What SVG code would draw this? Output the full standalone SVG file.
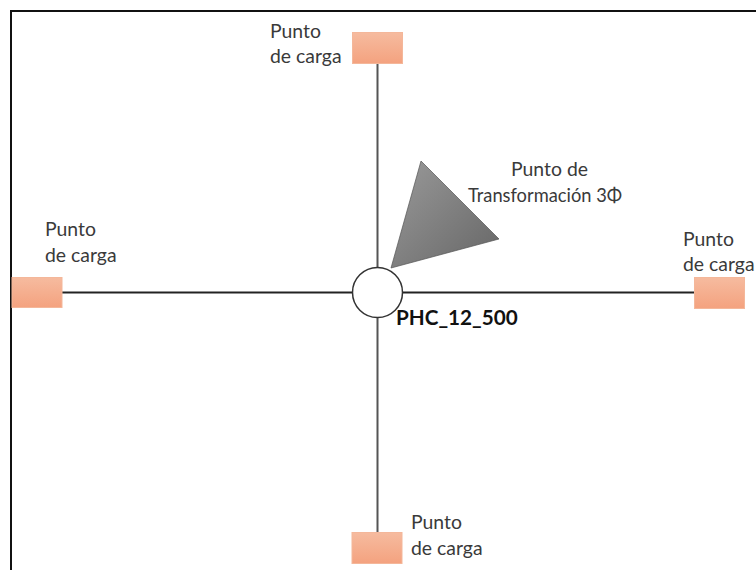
<svg xmlns="http://www.w3.org/2000/svg" width="756" height="570" viewBox="0 0 756 570">
<style>
text{font-family:"Lato","Liberation Sans",sans-serif;font-size:19.400px;fill:#3a3a3a}
.b{font-weight:700;fill:#111;font-size:20.700px}
.load{fill:url(#lg);stroke:#f4b79a;stroke-width:1}
.w{fill:none;stroke-width:2}
</style>
<defs>
<linearGradient id="lg" x1="0" y1="0" x2="0" y2="1"><stop offset="0" stop-color="#f6bb9f"/><stop offset="1" stop-color="#f4a27f"/></linearGradient>
<linearGradient id="tg" x1="0" y1="0" x2="1" y2="1"><stop offset="0" stop-color="#9a9a9a"/><stop offset="1" stop-color="#666"/></linearGradient>
</defs>
<rect width="756" height="570" fill="#fff"/>
<path d="M11 570V11H756" fill="none" stroke="#111" stroke-width="2"/>
<g id="connectors">
<path class="w" stroke="#555" d="M377.500 63V268M377.500 318V533"/>
<path class="w" stroke="#222" d="M62 292.500H352M403 292.500H695"/>
</g>
<g id="load-top"><rect class="load" x="352.500" y="32.500" width="50" height="31"/><text x="270" y="38">Punto</text><text x="270" y="63">de carga</text></g>
<g id="load-left"><rect class="load" x="12" y="277.500" width="50" height="30"/><text x="45" y="236">Punto</text><text x="45" y="262">de carga</text></g>
<g id="load-right"><rect class="load" x="694.500" y="277.500" width="50" height="31"/><text x="683" y="246">Punto</text><text x="683" y="271">de carga</text></g>
<g id="load-bottom"><rect class="load" x="352" y="532.500" width="50" height="31"/><text x="411" y="529">Punto</text><text x="411" y="555">de carga</text></g>
<g id="transformer"><polygon points="421,161 499,239 391,268" fill="url(#tg)" stroke="#555" stroke-width="0.700"/><text x="511" y="176">Punto de</text><text x="468" y="202" textLength="154" lengthAdjust="spacingAndGlyphs">Transformación 3Φ</text></g>
<g id="hub"><circle cx="377.500" cy="292.500" r="25" fill="#fff" stroke="#333" stroke-width="1.500"/><text class="b" x="396" y="325">PHC_12_500</text></g>
</svg>
